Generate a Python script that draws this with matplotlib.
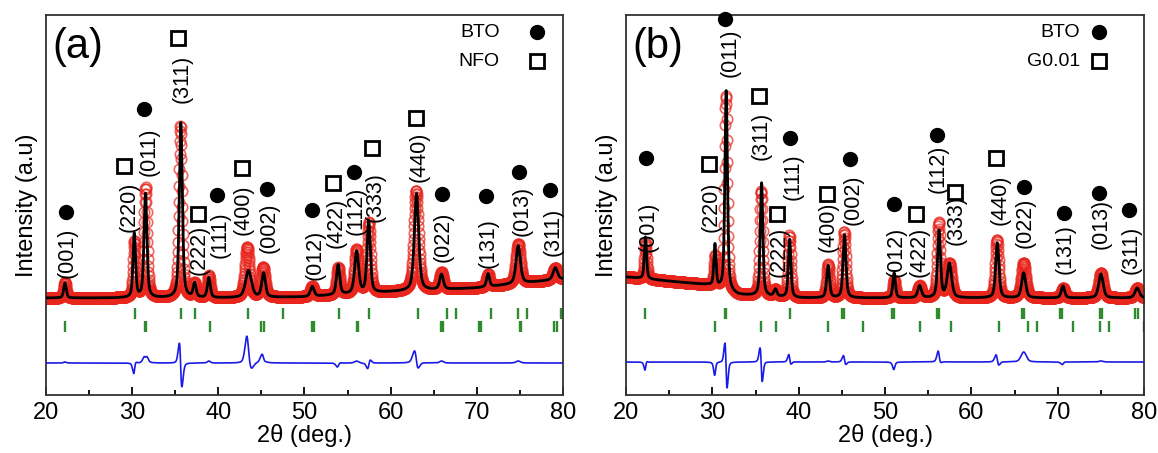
import numpy as np
import matplotlib
matplotlib.use("Agg")
import matplotlib.pyplot as plt

plt.rcParams['font.family'] = ['Liberation Sans', 'DejaVu Sans']

# ---------------- Panel (a) data ----------------
a_pos      = [22.2, 30.25, 31.55, 35.65, 37.25, 38.9, 43.5, 45.25, 50.9, 53.9, 56.05, 57.45, 63.0, 65.9, 71.3, 74.8, 79.1]
a_calc_h   = [15, 64, 104, 175, 14, 20, 27, 24, 10, 30, 42, 72, 97, 15, 13, 38, 12]
a_fwhm     = [0.35, 0.35, 0.40, 0.42, 0.40, 0.40, 0.80, 0.50, 0.50, 0.45, 0.55, 0.45, 0.60, 0.50, 0.40, 0.60, 0.60]
a_obs_pos  = [22.2, 30.27, 31.55, 35.61, 37.25, 38.9, 43.35, 45.2, 50.9, 53.92, 56.05, 57.47, 62.96, 65.9, 71.3, 74.8, 79.1]
a_obs_h    = [16, 56, 110, 172, 14, 22, 50, 30, 10, 27, 44, 70, 100, 17, 13, 40, 12]
a_obs_w    = [0.35, 0.35, 0.42, 0.42, 0.40, 0.40, 0.60, 0.55, 0.50, 0.45, 0.55, 0.45, 0.62, 0.50, 0.40, 0.60, 0.60]
a_bg_x     = [20, 40, 50, 60, 70, 80]
a_bg_y     = [97, 97, 98, 103, 107, 116]
a_bragg_top = [30.3, 35.7, 37.35, 43.45, 47.55, 53.95, 57.5, 63.2, 66.5, 67.55, 71.65, 74.75, 75.8, 79.8]
a_bragg_bot = [22.15, 31.5, 31.6, 39.0, 45.0, 45.3, 50.85, 51.05, 56.05, 56.2, 65.85, 66.1, 70.25, 70.5, 74.95, 75.15, 79.0, 79.25]
a_lab_text = ['(001)', '(220)', '(011)', '(311)', '(222)', '(111)', '(400)', '(002)', '(012)', '(422)', '(112)', '(333)', '(440)', '(022)', '(131)', '(013)', '(311)']
a_lab_x    = [22.5, 29.6, 32.0, 35.8, 37.8, 40.2, 42.9, 45.9, 51.2, 53.7, 56.0, 58.2, 63.3, 66.1, 71.3, 75.2, 78.8]
a_lab_y    = [142, 188, 243, 316, 145, 160, 185, 167, 140, 172, 184, 198, 238, 158, 152, 184, 163]
a_mk_x     = [22.3, 29.1, 31.4, 35.3, 37.6, 39.8, 42.7, 45.6, 50.9, 53.3, 55.8, 57.8, 62.9, 65.9, 71.1, 74.9, 78.5]
a_mk_y     = [183, 229, 286, 357, 181, 200, 227, 206, 185, 212, 223, 247, 277, 201, 199, 223, 205]
a_mk_type  = ['o', 's', 'o', 's', 's', 'o', 's', 'o', 'o', 's', 'o', 's', 's', 'o', 'o', 'o', 'o']
a_diff_off = 32

# ---------------- Panel (b) data ----------------
b_pos      = [22.25, 30.3, 31.6, 35.7, 37.3, 38.95, 43.4, 45.3, 51.05, 54.0, 56.25, 57.45, 63.0, 66.05, 70.6, 75.0, 79.2]
b_calc_h   = [42, 42, 200, 113, 7, 58, 32, 63, 25, 12, 67, 34, 55, 25, 12, 24, 10]
b_fwhm     = [0.30, 0.30, 0.35, 0.35, 0.40, 0.35, 0.40, 0.40, 0.35, 0.50, 0.40, 0.60, 0.45, 0.55, 0.45, 0.60, 0.60]
b_obs_pos  = [22.27, 30.32, 31.57, 35.66, 37.3, 38.93, 43.4, 45.28, 51.07, 54.0, 56.23, 57.45, 62.97, 66.05, 70.63, 75.0, 79.2]
b_obs_h    = [36, 30, 195, 105, 7, 62, 33, 66, 18, 12, 75, 34, 58, 35, 10, 25, 10]
b_obs_w    = [0.30, 0.30, 0.35, 0.37, 0.40, 0.35, 0.40, 0.40, 0.35, 0.50, 0.40, 0.60, 0.45, 0.60, 0.45, 0.60, 0.60]
b_bg_x     = [20, 29.5, 33, 40, 80]
b_bg_y     = [118, 110, 100, 97, 97]
b_bragg_top = [22.15, 31.5, 31.6, 39.0, 45.0, 45.3, 50.85, 51.05, 56.05, 56.2, 65.85, 66.1, 70.25, 70.5, 74.95, 75.15, 79.0, 79.25]
b_bragg_bot = [30.35, 35.65, 37.35, 43.35, 47.5, 54.05, 57.6, 63.25, 66.6, 67.6, 71.8, 74.9, 75.95, 79.95]
b_lab_text = ['(001)', '(220)', '(011)', '(311)', '(222)', '(111)', '(400)', '(002)', '(012)', '(422)', '(112)', '(333)', '(440)', '(022)', '(131)', '(013)', '(311)']
b_lab_x    = [22.6, 29.8, 32.0, 35.7, 37.7, 39.3, 43.4, 46.3, 51.3, 53.9, 56.2, 58.2, 63.3, 66.2, 70.9, 75.0, 78.5]
b_lab_y    = [168, 188, 342, 259, 143, 218, 168, 195, 143, 143, 226, 175, 195, 172, 146, 171, 145]
b_mk_x     = [22.35, 29.6, 31.5, 35.45, 37.5, 39.0, 43.3, 45.9, 51.05, 53.6, 56.0, 58.1, 62.9, 66.1, 70.7, 74.75, 78.3]
b_mk_y     = [237, 231, 376, 299, 181, 257, 201, 236, 191, 181, 260, 203, 237, 208, 182, 202, 185]
b_mk_type  = ['o', 's', 'o', 's', 's', 'o', 's', 'o', 'o', 's', 'o', 's', 's', 'o', 'o', 'o', 'o']
b_diff_off = 33

x_ticks = [20, 30, 40, 50, 60, 70, 80]


def profile(x, pos, h, w, bgx, bgy):
    y = np.interp(x, bgx, bgy).astype(float)
    for p, hh, ww in zip(pos, h, w):
        g = np.exp(-4 * np.log(2) * ((x - p) / ww) ** 2)
        l = 1.0 / (1 + 4 * ((x - p) / ww) ** 2)
        y += hh * (0.5 * g + 0.5 * l)
    return y


def draw(ax, pos, ch, fw, opos, oh, ow, bgx, bgy, btop, bbot,
         lt, lx, ly, mx, my, mt, doff, panel, leg2, leg_x_txt, leg_x_mk):
    x = np.arange(20, 80.001, 0.01)
    calc = profile(x, pos, ch, fw, bgx, bgy)
    obs = profile(x, opos, oh, ow, bgx, bgy)
    diff = obs - calc + doff
    xs = x[::3]
    ax.plot(xs, obs[::3], 'o', ms=7.5, mfc='none', mec='#e8261e', mew=1.2, alpha=0.7, zorder=2)
    ax.plot(x, calc, color='black', lw=2.0, zorder=3)
    ax.plot(x, diff, color='#1a1ae6', lw=1.2, zorder=3)
    ax.vlines(btop, 76, 87, color='#2e8b2e', lw=1.7)
    ax.vlines(bbot, 63, 74, color='#2e8b2e', lw=1.7)
    for t, tx, ty in zip(lt, lx, ly):
        ax.text(tx, ty, t, rotation=90, ha='center', va='center', fontsize=15.5, zorder=5)
    for xx, yy, m in zip(mx, my, mt):
        if m == 'o':
            ax.plot(xx, yy, 'o', ms=10, color='black', zorder=5, clip_on=False)
        else:
            ax.plot(xx, yy, 's', ms=9.5, mfc='white', mec='black', mew=2.0, zorder=5, clip_on=False)
    ax.set_xlim(20, 80)
    ax.set_ylim(0, 380)
    ax.set_xticks(x_ticks)
    ax.set_xticks(np.arange(25, 80, 10), minor=True)
    ax.tick_params(axis='x', which='major', direction='in', length=6, width=1.3, labelsize=17, pad=5, top=False)
    ax.tick_params(axis='x', which='minor', direction='in', length=3.5, width=1.3, top=False)
    ax.set_yticks([])
    for s in ax.spines.values():
        s.set_linewidth(1.3)
        s.set_color('#333333')
    ax.set_xlabel('2\u03b8 (deg.)', fontsize=17, labelpad=0)
    ax.set_ylabel('Intensity (a.u)', fontsize=17, labelpad=6)
    ax.text(0.012, 0.915, panel, transform=ax.transAxes, fontsize=30, ha='left', va='center')
    ax.text(leg_x_txt, 0.955, 'BTO', transform=ax.transAxes, fontsize=14, ha='right', va='center')
    ax.text(leg_x_txt, 0.878, leg2, transform=ax.transAxes, fontsize=14, ha='right', va='center')
    ax.plot(leg_x_mk, 0.955, 'o', ms=10, color='black', transform=ax.transAxes)
    ax.plot(leg_x_mk, 0.878, 's', ms=9.5, mfc='white', mec='black', mew=2.0, transform=ax.transAxes)


fig = plt.figure(figsize=(11.58, 4.53), dpi=100)
ax1 = fig.add_axes([0.0397, 0.128, 0.4465, 0.839])
ax2 = fig.add_axes([0.5406, 0.128, 0.4474, 0.839])

draw(ax1, a_pos, a_calc_h, a_fwhm, a_obs_pos, a_obs_h, a_obs_w, a_bg_x, a_bg_y,
     a_bragg_top, a_bragg_bot, a_lab_text, a_lab_x, a_lab_y, a_mk_x, a_mk_y, a_mk_type,
     a_diff_off, '(a)', 'NFO', 0.878, 0.950)
draw(ax2, b_pos, b_calc_h, b_fwhm, b_obs_pos, b_obs_h, b_obs_w, b_bg_x, b_bg_y,
     b_bragg_top, b_bragg_bot, b_lab_text, b_lab_x, b_lab_y, b_mk_x, b_mk_y, b_mk_type,
     b_diff_off, '(b)', 'G0.01', 0.876, 0.913)

fig.savefig('out.png', dpi=100)
